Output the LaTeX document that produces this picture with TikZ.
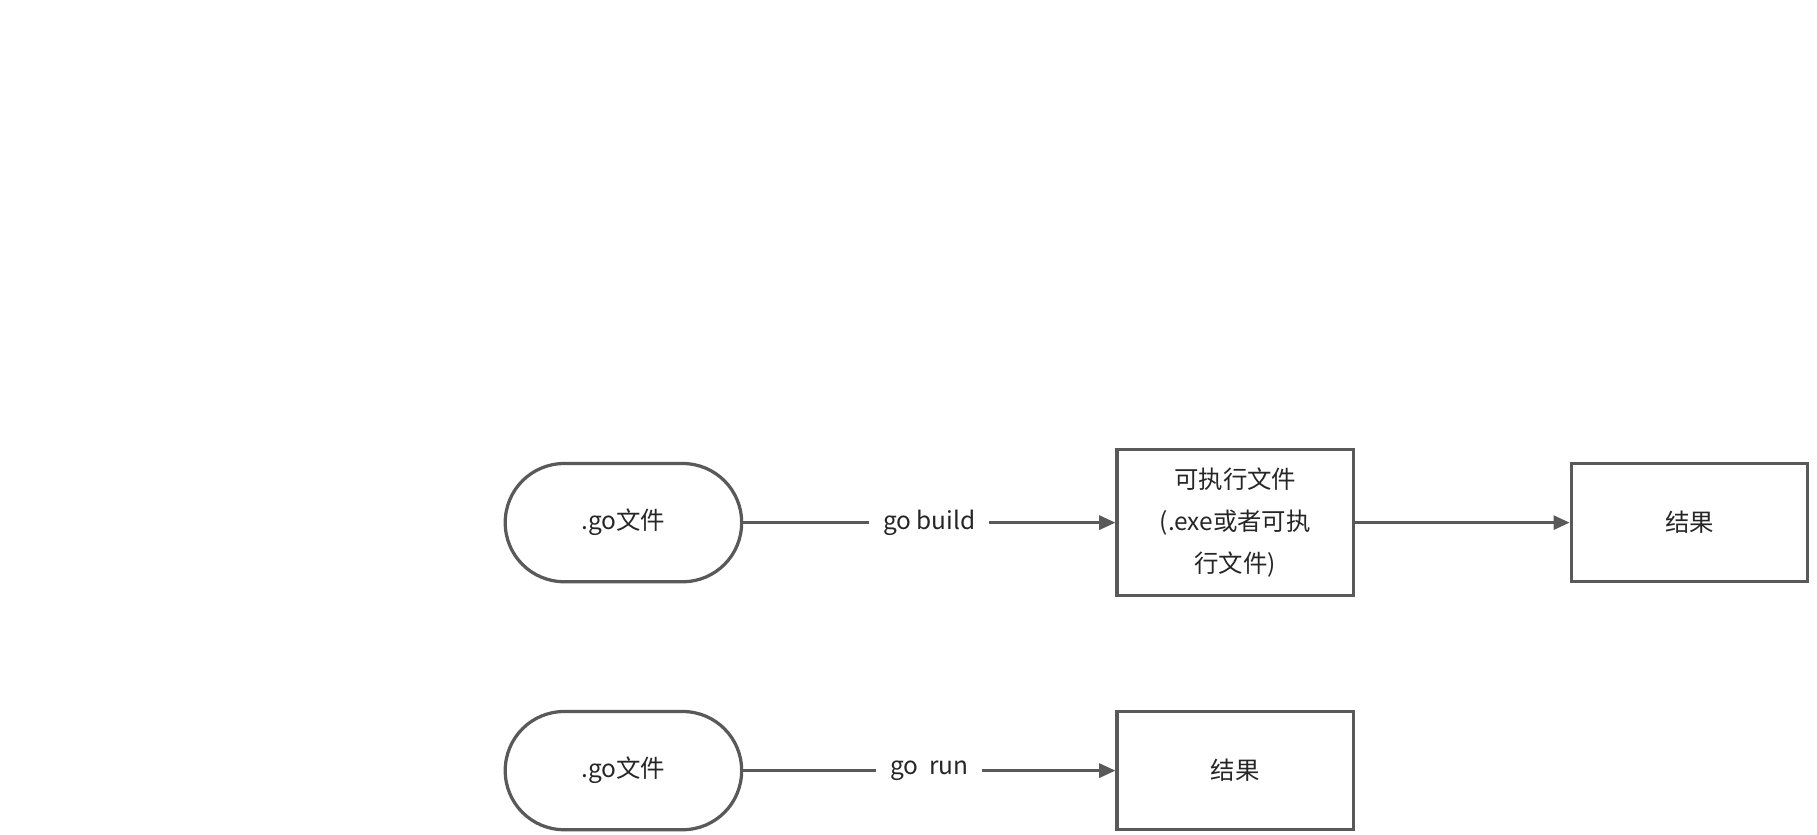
\documentclass[tikz,border=0pt]{standalone}
\usepackage{fontspec}
\setmainfont{Noto Sans CJK SC}
\usetikzlibrary{arrows.meta,positioning}
\definecolor{edge}{HTML}{595959}

\begin{document}
\begin{tikzpicture}[x=0.25mm, y=-0.25mm,
                    src/.style  ={rectangle, rounded corners=12.7mm, draw=edge, line width=0.7mm, minimum width=51mm, minimum height=25.5mm, font=\fontsize{15}{18}\selectfont, text=black!85},
                    box/.style  ={rectangle, draw=edge, line width=0.7mm, minimum width=51mm, minimum height=25.5mm, align=center, font=\fontsize{15}{26}\selectfont, text=black!85},
                    flow/.style ={draw=edge, line width=0.7mm, -{Triangle[length=3.5mm,width=3mm]}},
                    cmd/.style  ={fill=white, inner xsep=3mm, font=\fontsize{15}{18}\selectfont, text=black!85}]

      \useasboundingbox (0,0) rectangle (1568,720);
      \node[src]  at(538, 451)  (go1)   {.go文件};
      \node[box, minimum height=31.5mm]  at(1066, 451) (exe) {可执行文件\\(.exe或者可执\\行文件)};
      \node[box]  at(1458, 451) (res1)  {结果};
      \node[src]  at(538, 665)  (go2)   {.go文件};
      \node[box]  at(1066, 665) (res2)  {结果};
      \path[flow] (go1) -- node[cmd] {go build} (exe);
      \path[flow] (exe) -- (res1);
      \path[flow] (go2) -- node[cmd] {go\ \ run} (res2);
    \end{tikzpicture}
\end{document}
